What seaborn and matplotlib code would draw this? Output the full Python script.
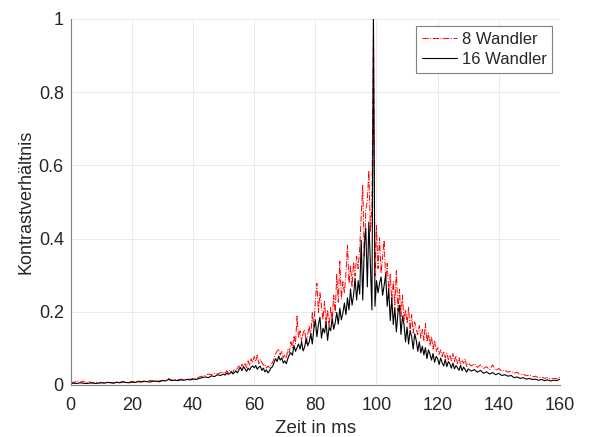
import numpy as np
import pandas as pd
import matplotlib
matplotlib.use("Agg")
import matplotlib.pyplot as plt
import seaborn as sns

# 16 Wandler (black)
black_head = [0.004, 0.005, 0.004, 0.006, 0.005, 0.004, 0.005, 0.006, 0.004, 0.005,
              0.006, 0.005, 0.007, 0.006, 0.005, 0.007, 0.006, 0.008, 0.007, 0.006,
              0.008, 0.007, 0.009, 0.008, 0.010, 0.009, 0.008, 0.011, 0.010, 0.009,
              0.012, 0.011, 0.015, 0.012, 0.013, 0.012, 0.014, 0.013, 0.015, 0.014,
              0.016, 0.015, 0.018, 0.020, 0.022, 0.020, 0.025, 0.023, 0.028, 0.026]
black_mid = [0.030, 0.027, 0.033, 0.029, 0.031, 0.036, 0.030, 0.034, 0.038, 0.033,
             0.042, 0.048, 0.039, 0.050, 0.044, 0.037, 0.046, 0.041, 0.049, 0.052,
             0.047, 0.053, 0.043, 0.049, 0.051, 0.040, 0.046, 0.036, 0.041, 0.033,
             0.039, 0.047, 0.050, 0.062, 0.072, 0.064, 0.079, 0.068, 0.074, 0.060,
             0.066, 0.058, 0.072, 0.083, 0.088, 0.081, 0.108, 0.092, 0.102, 0.112,
             0.098, 0.118, 0.093, 0.104, 0.128, 0.107, 0.118, 0.140, 0.112, 0.152,
             0.178, 0.132, 0.165, 0.185, 0.128, 0.155, 0.142, 0.172, 0.122, 0.158,
             0.148, 0.182, 0.152, 0.170, 0.198, 0.166, 0.210, 0.178, 0.196, 0.224,
             0.192, 0.238, 0.205, 0.262, 0.218, 0.245, 0.292, 0.232, 0.285, 0.248,
             0.395, 0.232, 0.375, 0.428, 0.268, 0.445, 0.330, 0.205, 1.000, 0.215,
             0.285, 0.252, 0.278, 0.295, 0.245, 0.272, 0.302, 0.215, 0.262, 0.176,
             0.238, 0.165, 0.212, 0.145, 0.196, 0.218, 0.138, 0.188, 0.165, 0.118,
             0.158, 0.112, 0.148, 0.132, 0.098, 0.140, 0.122, 0.092, 0.118, 0.088,
             0.106, 0.082, 0.102, 0.072, 0.096, 0.084, 0.068, 0.086, 0.062, 0.078,
             0.072, 0.056, 0.074, 0.060, 0.052, 0.070, 0.050, 0.064, 0.058, 0.046,
             0.060, 0.044, 0.053, 0.047, 0.040, 0.054, 0.039, 0.049, 0.042, 0.035,
             0.044]
black_tail = [0.038, 0.042, 0.035, 0.040, 0.032, 0.036, 0.030, 0.034, 0.028, 0.032,
              0.026, 0.028, 0.024, 0.026, 0.020, 0.022, 0.018, 0.020, 0.016, 0.018,
              0.015, 0.016, 0.013, 0.015, 0.012, 0.014, 0.011, 0.013, 0.012, 0.016]

# 8 Wandler (red)
red_head = [0.010, 0.006, 0.012, 0.007, 0.011, 0.006, 0.009, 0.005, 0.008, 0.006,
            0.007, 0.006, 0.008, 0.007, 0.006, 0.009, 0.007, 0.010, 0.008, 0.007,
            0.010, 0.008, 0.012, 0.009, 0.011, 0.010, 0.013, 0.010, 0.012, 0.011,
            0.013, 0.012, 0.018, 0.013, 0.015, 0.014, 0.016, 0.014, 0.017, 0.015,
            0.018, 0.017, 0.022, 0.024, 0.026, 0.030, 0.028, 0.032, 0.030, 0.034]
red_mid = [0.036, 0.031, 0.039, 0.033, 0.041, 0.037, 0.034, 0.043, 0.038, 0.046,
           0.052, 0.044, 0.057, 0.049, 0.060, 0.047, 0.066, 0.054, 0.072, 0.060,
           0.078, 0.064, 0.082, 0.058, 0.070, 0.062, 0.054, 0.057, 0.046, 0.052,
           0.047, 0.056, 0.062, 0.072, 0.085, 0.093, 0.098, 0.082, 0.092, 0.074,
           0.082, 0.073, 0.097, 0.088, 0.118, 0.102, 0.135, 0.112, 0.188, 0.128,
           0.148, 0.118, 0.142, 0.152, 0.113, 0.138, 0.162, 0.128, 0.198, 0.158,
           0.232, 0.278, 0.198, 0.252, 0.215, 0.178, 0.228, 0.168, 0.205, 0.158,
           0.212, 0.178, 0.245, 0.198, 0.302, 0.226, 0.338, 0.236, 0.282, 0.252,
           0.305, 0.382, 0.278, 0.325, 0.268, 0.335, 0.298, 0.352, 0.318, 0.372,
           0.462, 0.545, 0.352, 0.478, 0.505, 0.585, 0.418, 0.488, 1.000, 0.298,
           0.435, 0.318, 0.402, 0.305, 0.348, 0.395, 0.288, 0.332, 0.258, 0.302,
           0.232, 0.282, 0.218, 0.312, 0.202, 0.262, 0.188, 0.245, 0.176, 0.205,
           0.168, 0.212, 0.148, 0.192, 0.142, 0.172, 0.152, 0.138, 0.162, 0.128,
           0.152, 0.122, 0.168, 0.118, 0.142, 0.108, 0.132, 0.098, 0.122, 0.092,
           0.102, 0.084, 0.096, 0.078, 0.092, 0.074, 0.087, 0.069, 0.082, 0.066,
           0.086, 0.064, 0.080, 0.058, 0.074, 0.056, 0.066, 0.059, 0.071, 0.051,
           0.060]
red_tail = [0.052, 0.058, 0.048, 0.055, 0.045, 0.050, 0.042, 0.055, 0.040, 0.045,
            0.038, 0.040, 0.035, 0.038, 0.032, 0.035, 0.028, 0.030, 0.025, 0.028,
            0.022, 0.024, 0.020, 0.022, 0.018, 0.020, 0.016, 0.018, 0.017, 0.022]

# sampling grid: 1 ms outside, 0.5 ms around the peak
t = np.concatenate([np.arange(0, 50, 1.0), np.arange(50, 130.25, 0.5), np.arange(131, 161, 1.0)])
df = pd.DataFrame({
    "t": t,
    "w8": red_head + red_mid + red_tail,
    "w16": black_head + black_mid + black_tail,
})

sns.set_style("whitegrid")
plt.rcParams["font.family"] = ["Liberation Sans", "DejaVu Sans"]

fig = plt.figure(figsize=(5.9, 4.37), dpi=100)
ax = fig.add_axes([0.120, 0.119, 0.829, 0.838])

sns.lineplot(data=df, x="t", y="w8", ax=ax, color="red", linestyle="-.", linewidth=0.7, label="8 Wandler")
sns.lineplot(data=df, x="t", y="w16", ax=ax, color="black", linewidth=0.8, label="16 Wandler")

ax.set_xlim(0, 160)
ax.set_ylim(0, 1)
ax.set_xticks(range(0, 161, 20))
ax.set_yticks([0, 0.2, 0.4, 0.6, 0.8, 1])
ax.set_yticklabels(["0", "0.2", "0.4", "0.6", "0.8", "1"])
ax.grid(True, color="#e6e6e6", linewidth=0.6)
for s in ["top", "right"]:
    ax.spines[s].set_visible(False)
for s in ["left", "bottom"]:
    ax.spines[s].set_color("#808080")
    ax.spines[s].set_linewidth(0.8)
ax.tick_params(direction="in", length=3, width=0.6, color="#808080",
               labelsize=13, labelcolor="#262626")
ax.tick_params(axis="x", pad=9)
ax.tick_params(axis="y", pad=5)
ax.set_xlabel("Zeit in ms", fontsize=13.5, color="#262626", labelpad=4)
ax.set_ylabel("Kontrastverhältnis", fontsize=13, color="#262626", labelpad=3)

leg = ax.legend(loc="upper right", fontsize=12, handlelength=2.1, borderaxespad=0.45,
                fancybox=False, framealpha=1, edgecolor="#808080",
                borderpad=0.35, labelspacing=0.3, handletextpad=0.3)
leg.get_frame().set_linewidth(0.8)

fig.savefig("out.png", dpi=100)
